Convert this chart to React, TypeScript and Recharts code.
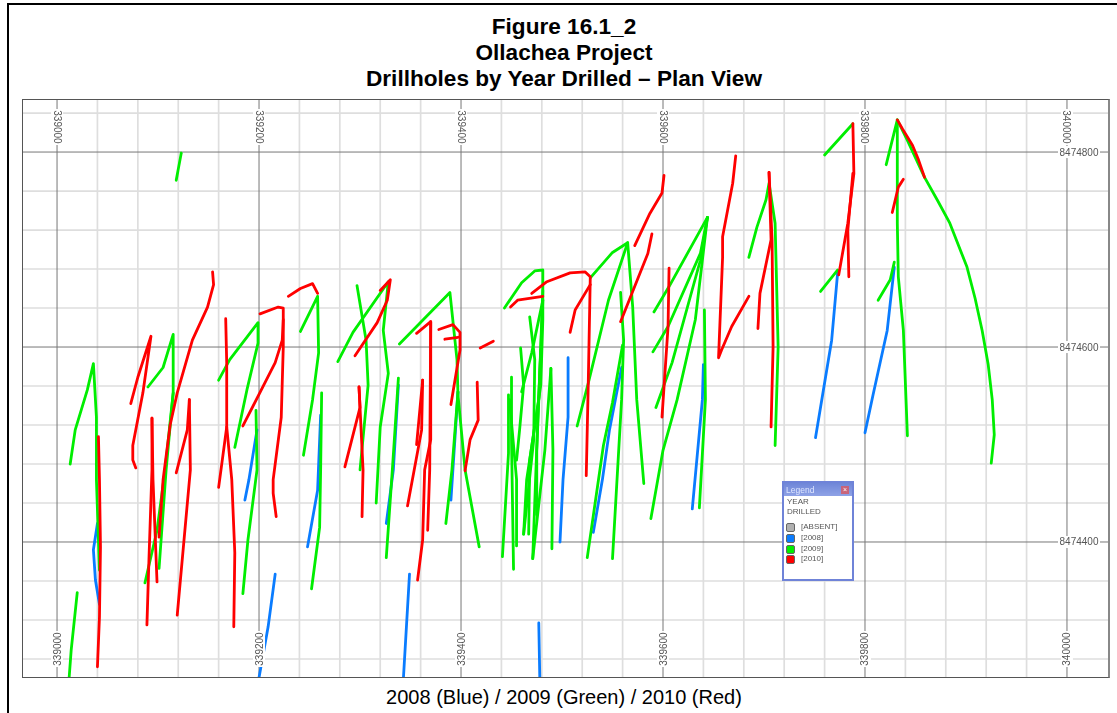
import React from 'react';
import { LineChart, Line, XAxis, YAxis, CartesianGrid } from 'recharts';

// Local grid origin: all hole traces are [metres east, metres north] from this point.
const EAST_ORIGIN = 339000;
const NORTH_ORIGIN = 8474000;

const majorEast = [339000, 339200, 339400, 339600, 339800, 340000];
const minorEast = [339040, 339080, 339120, 339160, 339240, 339280, 339320, 339360, 339440, 339480, 339520, 339560, 339640, 339680, 339720, 339760, 339840, 339880, 339920, 339960];
const majorNorth = [8474400, 8474600, 8474800];
const minorNorth = [8474280, 8474320, 8474360, 8474440, 8474480, 8474520, 8474560, 8474640, 8474680, 8474720, 8474760, 8474840];

const titleLines = ['Figure 16.1_2', 'Ollachea Project', 'Drillholes by Year Drilled – Plan View'];
const caption = '2008 (Blue) / 2009 (Green) / 2010 (Red)';
const legendHeading = ['YEAR', 'DRILLED'];
const legendLabels = ['[ABSENT]', '[2008]', '[2009]', '[2010]'];
const legendColors = ['#b0b0b0', '#0a7cff', '#00ee00', '#ff0000'];

const holes2008: number[][][] = [
  [[198,515],[190,464],[186,443]],
  [[40,419],[36,392],[38,361],[42,336]],
  [[216,367],[209,313],[200,261]],
  [[261,530],[258,453],[248,395]],
  [[338,561],[333,474],[326,419]],
  [[397,554],[390,443]],
  [[349,367],[343,261]],
  [[477,317],[478,261]],
  [[506,589],[506,528],[501,464],[498,400]],
  [[559,579],[547,515],[540,464],[531,410]],
  [[640,582],[639,546],[629,434]],
  [[773,677],[767,607],[751,507]],
  [[829,682],[822,617],[808,551],[800,512]],
];

const holes2009: number[][][] = [
  [[123,799],[118,771]],
  [[13,480],[18,515],[30,556],[36,583],[39,528],[39,464],[42,371]],
  [[20,348],[14,289],[12,261]],
  [[90,559],[105,579],[115,613],[115,553],[107,474],[99,412],[87,358]],
  [[115,553],[108,474],[101,373]],
  [[160,566],[171,587],[199,625],[199,604],[188,556],[176,497]],
  [[197,535],[198,474],[189,402],[184,347]],
  [[241,616],[258,652],[259,594],[253,546],[244,489]],
  [[262,553],[261,474],[260,415],[252,352]],
  [[278,585],[293,615],[328,667],[323,617],[328,573],[320,518],[316,440]],
  [[297,663],[306,607],[308,561],[300,474]],
  [[338,568],[332,474],[326,384]],
  [[339,603],[389,656],[396,587],[397,551],[404,474],[418,395]],
  [[397,554],[391,474],[385,419]],
  [[443,640],[460,666],[473,678],[481,679],[481,628],[479,561],[468,484],[467,408]],
  [[447,551],[447,491],[441,385]],
  [[450,569],[450,505],[452,372]],
  [[448,546],[455,464],[455,396]],
  [[459,599],[462,561],[458,515],[455,484]],
  [[481,648],[470,594],[460,554]],
  [[468,631],[473,587],[472,505],[462,408]],
  [[481,648],[476,525],[471,383]],
  [[479,597],[475,494],[475,428]],
  [[489,578],[483,494],[471,383]],
  [[489,578],[491,494],[490,393]],
  [[481,658],[477,546],[465,464],[462,408]],
  [[528,671],[550,697],[565,707],[570,641],[574,546],[581,460]],
  [[565,707],[546,648],[526,563],[515,519]],
  [[558,656],[561,607],[559,546],[550,383]],
  [[560,602],[550,543],[541,499],[525,384]],
  [[591,636],[606,662],[644,733]],
  [[590,595],[605,621],[637,696],[644,733]],
  [[593,538],[609,584],[637,689],[644,733]],
  [[644,733],[632,628],[614,546],[600,494],[588,424]],
  [[641,638],[642,546],[636,435]],
  [[685,692],[693,723],[702,751],[705,768],[711,727],[714,600],[711,499]],
  [[760,797],[788,829]],
  [[756,657],[773,679]],
  [[813,648],[825,669],[829,687]],
  [[821,787],[832,833],[832,727],[833,672],[838,617],[842,509]],
  [[832,833],[842,812],[859,774],[872,750],[884,727],[901,682],[909,650],[916,617],[922,582],[926,546],[928,510],[925,481]],
];

const holes2010: number[][][] = [
  [[832,833],[837,824],[847,807],[853,792],[859,774]],
  [[838,772],[833,764],[827,738]],
  [[788,829],[789,778],[783,727],[774,674]],
  [[788,778],[783,720],[784,672]],
  [[705,779],[708,710],[709,600],[707,518]],
  [[705,779],[707,710],[696,655],[694,619]],
  [[672,796],[669,768],[659,713],[659,692],[655,589],[658,597],[668,621],[685,652]],
  [[601,776],[599,758],[587,737],[572,704]],
  [[589,716],[585,696],[558,626]],
  [[606,681],[605,621],[599,528]],
  [[470,655],[485,667],[508,676],[523,677],[528,672],[526,563],[524,468]],
  [[528,664],[513,638],[508,615]],
  [[449,641],[456,648],[481,652]],
  [[419,599],[432,606]],
  [[416,564],[417,525],[409,505],[404,473]],
  [[378,618],[392,623],[399,615],[399,597],[390,541]],
  [[384,608],[397,610]],
  [[356,614],[370,626],[370,505],[364,474],[362,402],[357,361]],
  [[362,566],[356,500]],
  [[362,566],[361,515],[347,437]],
  [[370,626],[369,474],[367,412]],
  [[320,658],[330,669],[327,648],[317,625],[295,591]],
  [[299,559],[300,538],[285,477]],
  [[299,559],[303,474],[302,426]],
  [[229,652],[241,660],[253,665],[258,655]],
  [[201,634],[219,641],[224,640],[224,600],[222,528],[214,464],[214,450],[217,426]],
  [[224,628],[223,607],[216,584],[184,519]],
  [[167,629],[168,584],[168,518],[160,456]],
  [[168,518],[173,464],[176,389],[175,313]],
  [[154,677],[155,664],[149,641],[134,607],[119,553],[112,520],[105,464],[101,405]],
  [[73,542],[80,569],[93,611],[85,553],[75,499],[75,484],[78,476]],
  [[94,527],[95,464],[99,359]],
  [[94,527],[94,474],[91,382],[89,315]],
  [[131,546],[129,515],[118,471]],
  [[131,546],[132,474],[119,325]],
  [[41,508],[42,464],[43,395],[42,323],[40,272]],
];

const seriesGroups = [
  { name: '2008', color: '#0a7cff', holes: holes2008 },
  { name: '2009', color: '#00ee00', holes: holes2009 },
  { name: '2010', color: '#ff0000', holes: holes2010 },
];

const toRows = (hole: number[][]) => hole.map(([e, n]) => ({ x: EAST_ORIGIN + e, y: NORTH_ORIGIN + n }));

const LABEL_FONT = '"Liberation Sans", Arial, sans-serif';

const VerticalTick = (rotation: number, cy: number) => (props: any) => {
  const { x, payload } = props;
  return (
    <g>
      <rect x={x - 6} y={cy - 18} width={12} height={36} fill="#fff" />
      <text x={x} y={cy} fontSize={10} fontFamily={LABEL_FONT} fill="#555" textAnchor="middle" dominantBaseline="central" transform={`rotate(${rotation} ${x} ${cy})`}>
        {payload.value}
      </text>
    </g>
  );
};

const HorizontalTick = (props: any) => {
  const { y, payload } = props;
  return (
    <g>
      <rect x={1058} y={y - 6} width={42} height={12} fill="#fff" />
      <text x={1079} y={y} fontSize={10} fontFamily={LABEL_FONT} fill="#555" textAnchor="middle" dominantBaseline="central">
        {payload.value}
      </text>
    </g>
  );
};

const LegendWindow = () => (
  <div style={{ position: 'absolute', left: 782, top: 481, width: 72, height: 100, boxSizing: 'border-box', border: '2px solid #6f83d8', background: '#fff', fontFamily: LABEL_FONT, fontSize: 8, color: '#555', filter: 'blur(0.3px)' }}>
    <div style={{ height: 13, background: 'linear-gradient(#6f86d8,#8ea2e6)', color: '#dfe6ff', fontSize: 8.5, lineHeight: '14px', paddingLeft: 2, position: 'relative' }}>
      Legend
      <span style={{ position: 'absolute', right: 3, top: 3, width: 8, height: 8, background: '#c8647a', color: '#fff', fontSize: 7, lineHeight: '8px', textAlign: 'center' }}>×</span>
    </div>
    <div style={{ paddingLeft: 3, paddingTop: 1, lineHeight: '9.5px' }}>
      {legendHeading.map((t) => (<div key={t}>{t}</div>))}
    </div>
    <div style={{ marginTop: 6 }}>
      {legendLabels.map((label, i) => (
        <div key={label} style={{ height: 10.8, position: 'relative' }}>
          <span style={{ position: 'absolute', left: 2, top: 1, width: 7, height: 7, background: legendColors[i], border: '1px solid #666', borderRadius: 2 }} />
          <span style={{ position: 'absolute', left: 17, top: 0, lineHeight: '10px', whiteSpace: 'nowrap' }}>{label}</span>
        </div>
      ))}
    </div>
  </div>
);

export default function App() {
  return (
    <div style={{ position: 'absolute', left: 0, top: 0, width: 1117, height: 713, background: '#fff', overflow: 'hidden', fontFamily: LABEL_FONT, color: '#000' }}>
      <div style={{ position: 'absolute', left: 7, top: 3, right: 0, height: 2, background: '#000' }} />
      <div style={{ position: 'absolute', left: 7, top: 3, bottom: 0, width: 2, background: '#000' }} />
      {titleLines.map((line, i) => (
        <div key={line} style={{ position: 'absolute', left: 14, width: 1100, top: 14 + i * 26, textAlign: 'center', fontWeight: 700, fontSize: 22.6, lineHeight: '26px' }}>{line}</div>
      ))}
      <div style={{ position: 'absolute', left: 0, top: 0, filter: 'blur(0.4px)' }}>
        <LineChart width={1117} height={713} margin={{ top: 99, left: 22, right: 7, bottom: 35 }}>
          <CartesianGrid xAxisId="bottom" yAxisId="n" horizontalValues={minorNorth} verticalValues={minorEast} stroke="#dedede" strokeWidth={1.7} />
          <CartesianGrid xAxisId="bottom" yAxisId="n" horizontalValues={majorNorth} verticalValues={majorEast} stroke="#777" strokeWidth={1} />
          <XAxis xAxisId="bottom" orientation="bottom" mirror height={1} dataKey="x" type="number" domain={[338965.3, 340042.6]} allowDataOverflow ticks={majorEast} interval={0} axisLine={false} tickLine={false} tick={VerticalTick(-90, 649)} />
          <XAxis xAxisId="top" orientation="top" mirror height={1} dataKey="x" type="number" domain={[338965.3, 340042.6]} allowDataOverflow ticks={majorEast} interval={0} axisLine={false} tickLine={false} tick={VerticalTick(90, 127)} />
          <YAxis yAxisId="n" orientation="right" mirror width={1} dataKey="y" type="number" domain={[8474260.5, 8474854.4]} allowDataOverflow ticks={majorNorth} interval={0} axisLine={false} tickLine={false} tick={HorizontalTick} />
          {seriesGroups.flatMap((group) =>
            group.holes.map((hole, i) => (
              <Line key={`${group.name}-${i}`} xAxisId="bottom" yAxisId="n" data={toRows(hole)} dataKey="y" type="linear" stroke={group.color} strokeWidth={2.8} strokeLinejoin="round" strokeLinecap="round" dot={false} activeDot={false} legendType="none" isAnimationActive={false} />
            ))
          )}
        </LineChart>
      </div>
      <div style={{ position: 'absolute', left: 22, top: 99, width: 1088, height: 579, boxSizing: 'border-box', borderTop: '1px solid #555', borderLeft: '1px solid #555', borderBottom: '1px solid #555', borderRight: '2px solid #888', pointerEvents: 'none' }} />
      <LegendWindow />
      <div style={{ position: 'absolute', left: 14, width: 1100, top: 686, textAlign: 'center', fontSize: 20, lineHeight: '22px' }}>{caption}</div>
    </div>
  );
}
